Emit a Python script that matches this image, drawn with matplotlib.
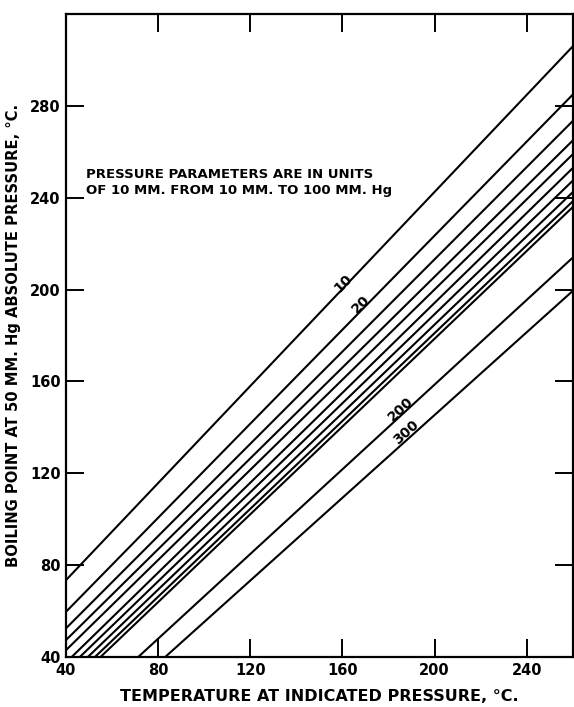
import numpy as np
import matplotlib
matplotlib.use("Agg")
import matplotlib.pyplot as plt

# pressure parameters (mm Hg) and line end values
pressures = [10, 20, 30, 40, 50, 60, 70, 80, 90, 100, 200, 300]
bp_at_40 = [73.5, 59.7, 52.5, 47.4, 43.0, 37.6, 34.2, 30.9, 28.0, 25.7, 11.1, 1.2]
bp_at_260 = [306.0, 285.0, 273.5, 265.0, 259.0, 253.0, 247.5, 242.5, 238.5, 236.0, 214.0, 199.5]

x_ticks = [40, 80, 120, 160, 200, 240]
y_ticks = [40, 80, 120, 160, 200, 240, 280]

# curve labels: (text, x, y, angle)
curve_labels = [("10", 160.5, 203.0, 46), ("20", 168.0, 193.5, 45),
                ("200", 185.2, 148.0, 43), ("300", 187.6, 138.0, 42)]

note = "PRESSURE PARAMETERS ARE IN UNITS\nOF 10 MM. FROM 10 MM. TO 100 MM. Hg"

plt.rcParams['font.family'] = ['DejaVu Sans']
fig = plt.figure(figsize=(5.74, 7.07), dpi=100)
ax = fig.add_axes([0.115, 0.0707, 0.883, 0.9093])

xs = np.array([40.0, 260.0])
for p, y0, y1 in zip(pressures, bp_at_40, bp_at_260):
    ax.plot(xs, [y0, y1], color='black', lw=1.5, solid_capstyle='butt')

for txt, lx, ly, ang in curve_labels:
    ax.text(lx, ly, txt, rotation=ang, ha='center', va='center',
            fontsize=10, fontweight='bold', rotation_mode='anchor')

ax.text(48.5, 246.5, note, fontsize=9.5, fontweight='bold', ha='left', va='center',
        linespacing=1.3)

ax.set_xlim(40, 260)
ax.set_ylim(40, 320)
ax.set_xticks(x_ticks)
ax.set_yticks(y_ticks)
ax.tick_params(direction='in', length=13, width=1.4, top=True, right=True,
               labelsize=10.5, pad=4)
for lab in ax.get_xticklabels() + ax.get_yticklabels():
    lab.set_fontweight('bold')
for s in ax.spines.values():
    s.set_linewidth(1.6)

ax.set_xlabel("TEMPERATURE AT INDICATED PRESSURE, °C.", fontsize=11.5,
              fontweight='bold', labelpad=8)
ax.set_ylabel("BOILING POINT AT 50 MM. Hg ABSOLUTE PRESSURE, °C.", fontsize=10.6,
              fontweight='bold', labelpad=6)

fig.savefig("out.png", dpi=100)
